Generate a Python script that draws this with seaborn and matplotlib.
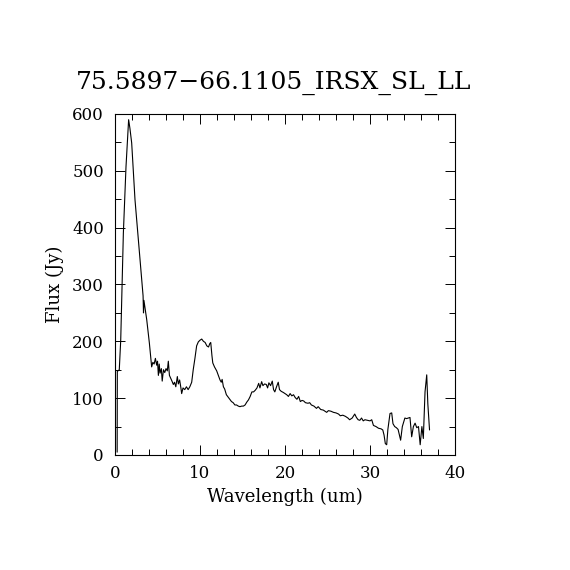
import numpy as np
import pandas as pd
import matplotlib
matplotlib.use("Agg")
import matplotlib.pyplot as plt
import seaborn as sns
from matplotlib.ticker import MultipleLocator

# spectrum
wavelength = [
    0.25, 0.27, 0.5, 0.67, 0.98, 1.29, 1.6, 1.75, 1.96, 2.15, 2.35, 2.6, 2.86,
    3.14, 3.3, 3.35, 3.4, 3.5, 3.73, 4.04, 4.31, 4.45, 4.6, 4.75, 4.9, 5.0,
    5.1, 5.2, 5.3, 5.45, 5.55, 5.7, 5.85, 6.0, 6.15, 6.27, 6.4, 6.55, 6.7,
    6.86, 7.0, 7.15, 7.33, 7.45, 7.6, 7.75, 7.84, 8.0, 8.2, 8.4, 8.6, 8.8,
    9.02, 9.2, 9.4, 9.6, 9.8, 10.0, 10.2, 10.4, 10.6, 10.8, 11.0, 11.15,
    11.26, 11.4, 11.5, 11.7, 11.96, 12.15, 12.35, 12.5, 12.6, 12.75, 12.9,
    13.1, 13.3, 13.5, 13.7, 13.9, 14.1, 14.3, 14.5, 14.7, 14.9, 15.1, 15.3,
    15.5, 15.7, 15.9, 16.1, 16.3, 16.5, 16.7, 16.9, 17.05, 17.25, 17.4, 17.6,
    17.8, 17.95, 18.1, 18.3, 18.5, 18.65, 18.8, 19.0, 19.2, 19.35, 19.55,
    19.8, 20.0, 20.2, 20.4, 20.6, 20.8, 21.0, 21.2, 21.4, 21.6, 21.8, 22.0,
    22.2, 22.4, 22.7, 22.9, 23.1, 23.4, 23.7, 23.9, 24.2, 24.5, 24.9, 25.1,
    25.4, 25.7, 26.0, 26.3, 26.5, 26.8, 27.1, 27.4, 27.6, 27.9, 28.2, 28.4,
    28.6, 28.8, 29.0, 29.2, 29.4, 29.7, 30.0, 30.2, 30.4, 30.7, 31.0, 31.3,
    31.5, 31.65, 31.8, 31.96, 32.1, 32.35, 32.55, 32.7, 32.9, 33.1, 33.3,
    33.6, 33.8, 34.1, 34.3, 34.5, 34.7, 34.9, 35.1, 35.3, 35.5, 35.7, 35.9,
    36.1, 36.27, 36.47, 36.67, 36.8, 36.9, 37.0,
]
flux = [
    5, 147, 150, 202, 390, 507, 590, 575, 549, 500, 449, 405, 361,
    308, 280, 250, 272, 262, 238, 197, 155, 163, 160, 170, 158, 165,
    140, 160, 144, 152, 130, 150, 145, 152, 148, 165, 140, 135, 130,
    124, 128, 120, 138, 125, 132, 118, 108, 118, 115, 120, 115, 120,
    128, 150, 170, 192, 199, 202, 204, 200, 198, 192, 190, 196,
    198, 175, 162, 155, 148, 140, 132, 128, 133, 120, 116,
    106, 102, 98, 94, 92, 88, 88, 86, 85, 86, 86, 88,
    93, 97, 103, 111, 111, 114, 118, 126, 118, 129, 122, 125,
    124, 118, 127, 122, 130, 115, 111, 120, 128, 115, 112,
    110, 108, 106, 103, 108, 104, 106, 101, 98, 103, 94, 96,
    95, 92, 91, 92, 88, 86, 82, 85, 80, 79, 75, 78,
    77, 75, 74, 72, 69, 70, 68, 65, 62, 65, 72, 66,
    62, 61, 65, 60, 62, 61, 60, 62, 52, 50, 47, 46,
    44, 35, 20, 18, 45, 73, 74, 55, 50, 48, 45,
    26, 50, 65, 64, 65, 66, 32, 50, 56, 48, 50, 18,
    50, 29, 111, 141, 90, 67, 44,
]

title = "75.5897\u221266.1105_IRSX_SL_LL"

df = pd.DataFrame({"Wavelength": wavelength, "Flux": flux})

sns.set_style("ticks")
plt.rcParams["font.family"] = ["DejaVu Serif"]
plt.rcParams["text.color"] = "black"
plt.rcParams["axes.labelcolor"] = "black"

fig = plt.figure(figsize=(5.7, 5.7), dpi=100)
ax = fig.add_axes([0.2018, 0.2018, 0.5965, 0.5982])

sns.lineplot(data=df, x="Wavelength", y="Flux", ax=ax, color="black",
             linewidth=0.8, sort=False, estimator=None)

ax.set_xlim(0, 40)
ax.set_ylim(0, 600)
ax.xaxis.set_major_locator(MultipleLocator(10))
ax.xaxis.set_minor_locator(MultipleLocator(2))
ax.yaxis.set_major_locator(MultipleLocator(100))
ax.yaxis.set_minor_locator(MultipleLocator(50))
ax.tick_params(which="both", direction="in", top=True, right=True,
               width=0.7, colors="black", labelsize=12)
ax.tick_params(which="major", length=7)
ax.tick_params(which="minor", length=4)
ax.tick_params(axis="x", pad=7)
ax.tick_params(axis="y", pad=8)
for s in ax.spines.values():
    s.set_linewidth(0.8)
    s.set_color("black")

ax.set_xlabel("Wavelength (um)", fontsize=13, labelpad=4, color="black")
ax.set_ylabel("Flux (Jy)", fontsize=13, labelpad=6, color="black")
ax.set_title(title, fontsize=18, pad=18, x=0.465, color="black")

fig.savefig("out.png", dpi=100, facecolor="white")
